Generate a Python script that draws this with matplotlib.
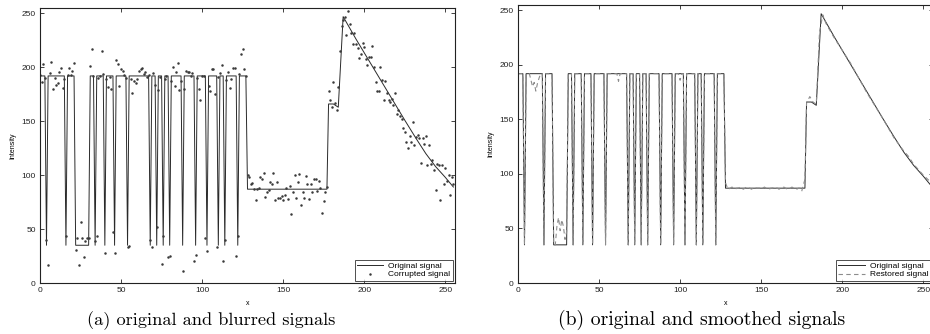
import numpy as np
import matplotlib
matplotlib.use("Agg")
import matplotlib.pyplot as plt

# ---- data ----
HIGH, LOW, FLAT = 192, 35, 87
# samples of the binary part (0..127) that sit at the low level
low_samples = [4, 16, 22, 23, 24, 25, 26, 27, 28, 29, 30, 34, 40, 46, 54,
               68, 72, 76, 80, 88, 96, 103, 110, 114, 122]
# vertices of the last part (step + ramp), x from 177 on
tail_x = [177, 178, 181, 184, 187, 195, 205, 215, 225, 232, 238, 244, 250, 255]
tail_y = [87, 166, 166, 163, 247, 226, 201, 176, 151, 134, 120, 108, 98, 89]

corrupted_pulse = [
    193, 186, 203, 190, 40, 17, 195, 205, 180, 190,
    184, 185, 196, 199, 181, 189, 44, 193, 199, 193,
    197, 204, 31, 42, 17, 57, 42, 24, 39, 42,
    42, 201, 217, 192, 39, 44, 190, 192, 215, 194,
    28, 189, 182, 191, 180, 47, 28, 207, 203, 183,
    198, 197, 193, 190, 33, 34, 189, 176, 187, 185,
    189, 197, 198, 199, 194, 196, 191, 193, 40, 33,
    195, 184, 52, 179, 191, 18, 44, 189, 192, 24,
    25, 187, 200, 183, 196, 204, 179, 187, 11, 180,
    197, 196, 196, 192, 195, 20, 26, 190, 180, 170,
    192, 192, 42, 30, 183, 178, 198, 198, 175, 33,
    191, 195, 202, 20, 40, 188, 196, 181, 189, 199,
    199, 25, 44, 194, 212, 217, 198, 192]
corrupted_flat = [
    100, 98, 92, 93, 87, 77, 87, 88, 98, 96,
    102, 80, 84, 86, 94, 92, 102, 77, 94, 79,
    79, 81, 77, 82, 88, 78, 90, 64, 84, 100,
    79, 94, 101, 72, 84, 79, 99, 92, 78, 92,
    84, 96, 96, 85, 95, 88, 65, 76, 84, 89]
corrupted_tail = [
    178, 170, 163, 186, 167, 160, 182, 215, 238, 244,
    247, 230, 252, 240, 232, 222, 232, 222, 218, 209,
    212, 223, 219, 208, 202, 210, 210, 220, 200, 186,
    178, 178, 200, 188, 170, 187, 176, 170, 168, 171,
    165, 176, 157, 160, 155, 152, 144, 140, 131, 125,
    136, 131, 149, 128, 135, 137, 134, 111, 134, 129,
    136, 109, 128, 110, 114, 105, 86, 110, 109, 77,
    109, 92, 107, 95, 100, 82, 98, 92]

# restored signal: where it differs from the original in the binary part
restored_fix_idx = [8, 9, 10, 11, 12, 13, 24, 25, 26, 27, 28, 29, 30, 62, 100]
restored_fix_val = [186, 180, 184, 176, 183, 188, 52, 60, 48, 58, 52, 40, 47, 185, 186]
restored_flat = [92, 88, 86, 87, 88, 87, 86, 87, 87, 88,
                 87, 86, 87, 88, 87, 87, 86, 87, 88, 87,
                 87, 87, 86, 87, 88, 87, 87, 86, 87, 87,
                 88, 87, 87, 86, 87, 87, 88, 87, 86, 87,
                 87, 88, 87, 87, 86, 87, 87, 84, 90, 95]
restored_tail_x = [177, 178, 180, 182, 184, 186, 188, 190, 195, 205, 215, 225,
                   232, 238, 241, 244, 250, 255]
restored_tail_y = [95, 165, 171, 166, 164, 230, 246, 238, 225, 202, 175, 151,
                   133, 121, 116, 109, 99, 92]

# ---- build the line vertices ----
orig_pulse = np.full(128, HIGH, dtype=float)
orig_pulse[low_samples] = LOW
orig_x = np.concatenate([np.arange(128), [128], tail_x])
orig_y = np.concatenate([orig_pulse, [FLAT], tail_y])

rest_pulse = orig_pulse.copy()
rest_pulse[restored_fix_idx] = restored_fix_val
rest_x = np.concatenate([np.arange(128), np.arange(128, 177), restored_tail_x])
rest_y = np.concatenate([rest_pulse, restored_flat[:49], restored_tail_y])

corrupted = np.concatenate([corrupted_pulse, corrupted_flat, corrupted_tail])
samples = np.arange(len(corrupted))

W, H = 930, 334
fig = plt.figure(figsize=(W / 100, H / 100), dpi=100)
plt.rcParams['font.family'] = ['Liberation Sans', 'DejaVu Sans']

ax1 = fig.add_axes([40 / W, 51 / H, 415 / W, 275 / H])
ax2 = fig.add_axes([518 / W, 51 / H, 415 / W, 278 / H])

line_col = "#2a2a2a"
ax1.plot(orig_x, orig_y, color=line_col, lw=0.7, label="Original signal")
ax1.plot(samples, corrupted, ls="none", marker="o", ms=1.8, mew=0,
         color="#3a3a3a", label="Corrupted signal")

ax2.plot(orig_x, orig_y, color=line_col, lw=0.7, label="Original signal")
ax2.plot(rest_x, rest_y, color="#8c8c8c", lw=0.8, ls=(0, (4, 3)),
         label="Restored signal")

for ax in (ax1, ax2):
    ax.set_xlim(0, 256)
    ax.set_ylim(0, 255)
    ax.set_xticks([0, 50, 100, 150, 200, 250])
    ax.set_yticks([0, 50, 100, 150, 200, 250])
    ax.tick_params(direction="in", top=True, right=True, length=3,
                   width=0.6, labelsize=6, pad=3, colors="#222222")
    for s in ax.spines.values():
        s.set_linewidth(0.8)
        s.set_color("#222222")
    ax.set_xlabel("x", fontsize=5, labelpad=4)
    ax.set_ylabel("Intensity", fontsize=5, labelpad=4)
    leg = ax.legend(loc="lower right", fontsize=6, frameon=True, fancybox=False,
                    borderpad=0.25, handlelength=3.2, handletextpad=0.6,
                    labelspacing=0.1, borderaxespad=0.3)
    leg.get_frame().set_edgecolor("#222222")
    leg.get_frame().set_linewidth(0.7)

fig.text(211 / W, 9 / H, "(a) original and blurred signals", ha="center",
         va="baseline", fontsize=13.2, family="cmr10")
fig.text(702 / W, 9 / H, "(b) original and smoothed signals", ha="center",
         va="baseline", fontsize=14.2, family="cmr10")

fig.savefig("out.png", dpi=100)
